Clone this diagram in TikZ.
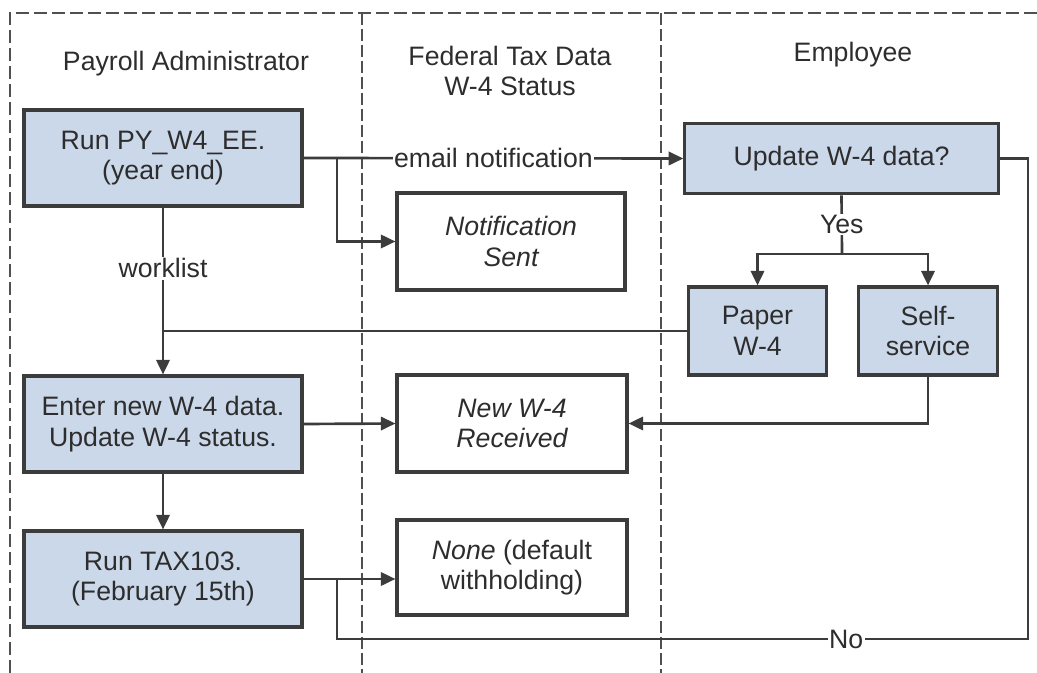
\documentclass[tikz,border=0pt]{standalone}
\usepackage{fontspec}
\setmainfont{Liberation Sans}
\usetikzlibrary{arrows.meta}
\definecolor{boxblue}{RGB}{203,216,234}
\definecolor{ink}{RGB}{45,45,45}
\definecolor{edge}{RGB}{60,60,60}
\begin{document}
\begin{tikzpicture}[x=0.75pt, y=-0.75pt, >={Triangle[length=11pt,width=10pt]},
    font=\fontsize{20}{23}\selectfont, text=ink,
    actbox/.style={draw=edge, line width=2.3pt, fill=boxblue, align=center, inner sep=0pt},
    statbox/.style={draw=edge, line width=2.3pt, fill=white, align=center, inner sep=0pt},
    flow/.style={draw=edge, line width=2pt},
    lane/.style={draw=edge!90, line width=1.8pt, dash pattern=on 9.5pt off 4pt},
    tag/.style={fill=white, inner sep=1pt}]
    \useasboundingbox (0,0) rectangle (1037,673);
    % lanes
    \draw[lane] (10,673) -- (10,13) -- (1037,13);
    \draw[lane, dash pattern=on 9pt off 3pt] (362,13) -- (362,673);
    \draw[lane, dash pattern=on 9pt off 3pt] (661,13) -- (661,673);
    \node (lpay) at (186,64) {Payroll Administrator};
    \node[align=center] (ltax) at (510,71) {Federal Tax Data\\W-4 Status};
    \node (lemp) at (853,55) {Employee};

    % payroll administrator
    \node[actbox, minimum width=208.5pt, minimum height=72pt] (run) at (163,158) {Run PY\_W4\_EE.\\(year end)};
    \node[actbox, minimum width=208.5pt, minimum height=72pt] (enter) at (163,424) {Enter new W-4 data.\\Update W-4 status.};
    \node[actbox, minimum width=208.5pt, minimum height=72pt] (tax) at (163,579) {Run TAX103.\\(February 15th)};

    % status
    \node[statbox, minimum width=171pt, minimum height=72.75pt] (notif) at (511,241.5) {\itshape Notification\\\itshape Sent};
    \node[statbox, minimum width=172.5pt, minimum height=72.75pt] (neww4) at (512,423.5) {\itshape New W-4\\\itshape Received};
    \node[statbox, minimum width=172.5pt, minimum height=71.25pt] (none) at (512,567.5) {\textit{None} (default\\withholding)};

    % employee
    \node[actbox, minimum width=235pt, minimum height=53pt] (update) at (841.5,158.5) {Update W-4 data?};
    \node[actbox, minimum width=104pt, minimum height=66pt] (paper) at (757.5,331) {Paper\\W-4};
    \node[actbox, minimum width=104pt, minimum height=66pt] (self) at (928,331) {Self-\\service};

    \coordinate (br1) at (337,158);
    \coordinate (br2) at (337,579);
    \coordinate (yes) at (842,254);
    \coordinate (noc) at (1028,639);

    % connectors
    \draw[flow, ->] (run.east) -- node[tag] {email notification} (update.west);
    \draw[flow, ->] (br1) |- (notif.west);
    \draw[flow, ->] (run.south) -- node[tag, pos=0.365] {worklist} (enter.north);
    \draw[flow] (paper.west) -- (paper.west -| enter.north);
    \draw[flow] (update.south) -- node[tag] {Yes} (yes);
    \draw[flow, ->] (yes) -| (paper.north);
    \draw[flow, ->] (yes) -| (self.north);
    \draw[flow, ->] (enter.east) -- (neww4.west);
    \draw[flow, ->] (self.south) |- (neww4.east);
    \draw[flow, ->] (enter.south) -- (tax.north);
    \draw[flow, ->] (tax.east) -- (tax.east -| none.west);
    \draw[flow] (update.east) -| (noc) -- node[tag, pos=0.263] {No} (br2 |- noc) -- (br2);
\end{tikzpicture}
\end{document}
